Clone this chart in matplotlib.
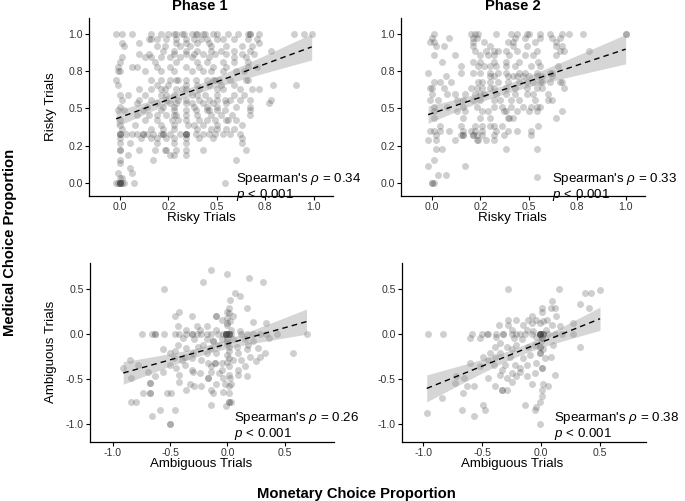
import numpy as np
import matplotlib.pyplot as plt

plt.rcParams['font.family'] = ['Liberation Sans', 'DejaVu Sans']
plt.rcParams['mathtext.fontset'] = 'custom'
plt.rcParams['mathtext.it'] = 'Liberation Sans:italic'
plt.rcParams['mathtext.rm'] = 'Liberation Sans'

# Phase 1 - risky trials: (medical y, [monetary x ...])
p1_rows = [
    (1.00, [-0.02, 0.01, 0.06, 0.16, 0.21, 0.25, 0.28, 0.29, 0.32, 0.33, 0.37, 0.39, 0.40, 0.43, 0.44,
            0.48, 0.50, 0.56, 0.61, 0.66, 0.67, 0.67, 0.72, 0.90, 0.95, 0.99]),
    (0.97, [0.15, 0.16, 0.19, 0.24, 0.29, 0.34, 0.38, 0.42, 0.45, 0.50, 0.53, 0.59, 0.66, 0.71]),
    (0.94, [0.01, 0.10, 0.29, 0.34, 0.40, 0.46, 0.72]),
    (0.92, [0.02, 0.19, 0.23, 0.31, 0.36, 0.47, 0.55, 0.63, 0.68]),
    (0.89, [0.22, 0.28, 0.34, 0.40, 0.47, 0.52, 0.59, 0.67, 0.78]),
    (0.87, [0.10, 0.15, 0.28, 0.34, 0.38, 0.43, 0.49, 0.55, 0.63, 0.69]),
    (0.845, [0.01, 0.13, 0.16, 0.21, 0.26, 0.31, 0.37, 0.46, 0.59, 0.65]),
    (0.815, [0.00, 0.18, 0.29, 0.40, 0.45, 0.53, 0.59, 0.66]),
    (0.78, [-0.01, 0.06, 0.09, 0.19, 0.26, 0.34, 0.41, 0.48, 0.55, 0.66, 0.71]),
    (0.75, [-0.01, 0.00, 0.13, 0.21, 0.28, 0.37, 0.43, 0.47, 0.53, 0.60, 0.64]),
    (0.69, [-0.02, 0.16, 0.21, 0.26, 0.29, 0.30, 0.34, 0.39, 0.45, 0.48, 0.49, 0.51, 0.57, 0.65, 0.66]),
    (0.66, [-0.01, 0.19, 0.25, 0.34, 0.40, 0.46, 0.52, 0.59, 0.79, 0.91]),
    (0.63, [0.10, 0.16, 0.21, 0.23, 0.29, 0.32, 0.34, 0.41, 0.50, 0.53, 0.62, 0.68, 0.72]),
    (0.59, [0.00, 0.04, 0.13, 0.21, 0.24, 0.28, 0.37, 0.40, 0.44, 0.50, 0.59, 0.64]),
    (0.56, [0.01, 0.10, 0.16, 0.24, 0.30, 0.34, 0.41, 0.46, 0.50, 0.54, 0.57, 0.62, 0.67, 0.78]),
    (0.535, [0.09, 0.19, 0.26, 0.29, 0.34, 0.37, 0.43, 0.48, 0.55, 0.77]),
    (0.51, [0.00, 0.14, 0.22, 0.28, 0.38, 0.45, 0.50, 0.60, 0.67]),
    (0.49, [-0.01, 0.02, 0.12, 0.21, 0.28, 0.34, 0.39, 0.45, 0.46, 0.50, 0.54, 0.67]),
    (0.455, [0.09, 0.15, 0.19, 0.24, 0.28, 0.29, 0.34, 0.40, 0.47, 0.52, 0.58, 0.67]),
    (0.42, [0.00, 0.13, 0.19, 0.27, 0.30, 0.34, 0.41, 0.45, 0.49, 0.55, 0.56, 0.60]),
    (0.39, [0.00, 0.08, 0.21, 0.28, 0.35, 0.38, 0.43, 0.50, 0.63]),
    (0.365, [0.01, 0.16, 0.22, 0.28, 0.40, 0.47, 0.50, 0.55, 0.59]),
    (0.33, [0.00, 0.00, 0.00, 0.03, 0.06, 0.09, 0.12, 0.12, 0.14, 0.17, 0.21, 0.22, 0.22, 0.26, 0.31,
            0.34, 0.34, 0.34, 0.34, 0.39, 0.43, 0.46, 0.49, 0.53, 0.57, 0.62]),
    (0.30, [0.00, 0.11, 0.16, 0.19, 0.24, 0.28, 0.34, 0.41, 0.48, 0.63]),
    (0.265, [0.00, 0.05, 0.19, 0.28, 0.34, 0.63]),
    (0.22, [0.00, 0.00, 0.10, 0.18, 0.23, 0.24, 0.29, 0.34, 0.43, 0.65]),
    (0.185, [0.04, 0.26, 0.28, 0.34]),
    (0.155, [0.00, 0.17, 0.60]),
    (0.13, [0.00]),
    (0.10, [0.05]),
    (0.065, [-0.01, 0.06]),
    (0.03, [0.00, 0.01]),
    (0.00, [-0.02, -0.01, 0.00, 0.00, 0.00, 0.00, 0.00, 0.01, 0.02, 0.07, 0.54]),
]

# Phase 2 - risky trials
p2_rows = [
    (1.00, [0.01, 0.20, 0.22, 0.24, 0.33, 0.41, 0.44, 0.49, 0.50, 0.56, 0.61, 0.67, 0.71, 0.78, 1.00, 1.00]),
    (0.975, [0.00, 0.09, 0.21, 0.23, 0.43, 0.48, 0.56, 0.62, 0.66]),
    (0.95, [-0.01, 0.01, 0.21, 0.27, 0.39, 0.42, 0.53, 0.64]),
    (0.92, [0.02, 0.06, 0.21, 0.30, 0.42, 0.49, 0.64, 0.67]),
    (0.885, [0.22, 0.28, 0.32, 0.34, 0.38, 0.44, 0.54, 0.66, 0.68, 0.81]),
    (0.86, [0.01, 0.12, 0.25, 0.29, 0.32, 0.40, 0.48, 0.52, 0.64]),
    (0.815, [0.05, 0.21, 0.25, 0.32, 0.38, 0.45, 0.55]),
    (0.785, [0.15, 0.24, 0.27, 0.30, 0.33, 0.38, 0.43, 0.51, 0.56, 0.65]),
    (0.74, [-0.02, 0.15, 0.21, 0.25, 0.30, 0.34, 0.38, 0.45, 0.48, 0.54, 0.61, 0.62]),
    (0.72, [0.07, 0.30, 0.32, 0.39, 0.42, 0.44, 0.47, 0.50, 0.54, 0.57, 0.62]),
    (0.68, [0.01, 0.04, 0.10, 0.24, 0.26, 0.30, 0.34, 0.39, 0.45, 0.49, 0.52, 0.56, 0.57, 0.61, 0.66, 0.67]),
    (0.64, [-0.01, 0.00, 0.06, 0.20, 0.23, 0.26, 0.30, 0.32, 0.38, 0.43, 0.49, 0.54, 0.57, 0.68]),
    (0.60, [0.00, 0.08, 0.12, 0.17, 0.22, 0.25, 0.27, 0.33, 0.38, 0.43, 0.49, 0.52, 0.60]),
    (0.555, [-0.01, 0.03, 0.13, 0.16, 0.21, 0.25, 0.32, 0.35, 0.41, 0.45, 0.53, 0.60, 0.62]),
    (0.51, [0.01, 0.08, 0.16, 0.23, 0.32, 0.36, 0.41, 0.47, 0.51, 0.54, 0.56]),
    (0.48, [0.01, 0.13, 0.17, 0.26, 0.29, 0.37, 0.38, 0.44, 0.50, 0.54, 0.67]),
    (0.435, [0.01, 0.16, 0.25, 0.30, 0.39, 0.40, 0.42, 0.64]),
    (0.38, [0.04, 0.15, 0.22, 0.26, 0.30, 0.32, 0.36, 0.55]),
    (0.35, [-0.01, 0.01, 0.04, 0.09, 0.16, 0.20, 0.22, 0.26, 0.33, 0.39, 0.44, 0.51]),
    (0.32, [0.02, 0.15, 0.16, 0.16, 0.21, 0.21, 0.23, 0.26, 0.32, 0.37, 0.51]),
    (0.29, [-0.02, 0.02, 0.12, 0.23, 0.24, 0.28, 0.32]),
    (0.225, [0.02, 0.05, 0.38, 0.54]),
    (0.155, [0.01]),
    (0.11, [-0.02, 0.17]),
    (0.05, [0.03, 0.07]),
    (0.035, [0.54]),
    (0.00, [0.00, 0.00, 0.01]),
]

# Phase 1 - ambiguous trials: (monetary x, medical y)
p3_pts = [
    (-0.14, 0.71), (0.00, 0.67), (0.19, 0.62), (0.31, 0.58), (-0.21, 0.58), (-0.55, 0.50),
    (0.07, 0.46), (0.11, 0.42), (0.02, 0.38), (0.01, 0.29), (0.17, 0.29), (-0.42, 0.25),
    (-0.46, 0.20), (-0.31, 0.20), (-0.10, 0.20), (-0.10, 0.20), (0.01, 0.23), (0.05, 0.20),
    (-0.05, 0.16), (0.02, 0.14), (0.22, 0.13), (-0.43, 0.09), (-0.27, 0.09), (-0.18, 0.09),
    (0.00, 0.10), (0.34, 0.12), (-0.36, 0.05), (-0.24, 0.05), (-0.10, 0.05), (0.03, 0.05),
    (0.11, 0.03), (0.00, 0.25), (0.00, 0.18), (0.00, 0.12),
    (-0.75, 0.0), (-0.66, 0.0), (-0.63, 0.0), (-0.63, 0.0), (-0.55, 0.0), (-0.46, 0.0),
    (-0.42, 0.0), (-0.36, 0.0), (-0.31, 0.0), (-0.31, 0.0), (-0.27, 0.0), (-0.23, 0.0),
    (-0.18, 0.0), (-0.14, 0.0), (-0.08, 0.0), (-0.04, 0.0), (-0.01, 0.0), (-0.01, 0.0),
    (-0.01, 0.0), (-0.01, 0.0), (-0.01, 0.0), (-0.01, 0.0), (0.01, 0.0), (0.01, 0.0),
    (0.01, 0.0), (0.01, 0.0), (0.03, 0.0), (0.12, 0.0), (0.17, 0.0), (0.22, 0.0),
    (0.28, 0.0), (0.34, 0.0), (0.43, 0.0), (0.69, 0.0),
    (-0.39, -0.04), (-0.29, -0.06), (-0.18, -0.06), (-0.13, -0.08), (-0.13, -0.08), (-0.05, -0.06),
    (0.05, -0.06), (0.15, -0.06), (0.22, -0.08), (0.36, -0.04), (0.00, -0.04), (0.00, -0.08),
    (-0.56, -0.17), (-0.43, -0.12), (-0.36, -0.16), (-0.26, -0.14), (-0.21, -0.12), (-0.14, -0.16),
    (-0.08, -0.12), (0.01, -0.14), (0.08, -0.14), (0.18, -0.12), (0.27, -0.16), (0.00, -0.11),
    (-0.50, -0.21), (-0.46, -0.19), (-0.37, -0.25), (-0.30, -0.21), (-0.18, -0.21), (-0.10, -0.21),
    (0.01, -0.19), (0.09, -0.21), (0.17, -0.17), (0.28, -0.25), (0.33, -0.21), (0.57, -0.21),
    (0.00, -0.23), (-0.85, -0.29), (-0.47, -0.27), (-0.40, -0.29), (-0.31, -0.27), (-0.23, -0.29),
    (-0.17, -0.32), (-0.11, -0.32), (-0.11, -0.32), (-0.05, -0.32), (0.01, -0.27), (0.05, -0.29),
    (0.12, -0.29), (0.20, -0.25), (0.25, -0.30), (0.00, -0.31),
    (-0.91, -0.38), (-0.78, -0.34), (-0.50, -0.34), (-0.45, -0.38), (-0.37, -0.34), (-0.31, -0.40),
    (-0.14, -0.36), (-0.05, -0.40), (0.01, -0.36), (0.09, -0.40), (0.15, -0.36),
    (-0.69, -0.42), (-0.56, -0.42), (-0.42, -0.45), (-0.30, -0.42), (-0.24, -0.43), (-0.14, -0.42),
    (-0.07, -0.43), (0.01, -0.45), (0.09, -0.45), (0.17, -0.47), (-0.63, -0.47),
    (-0.84, -0.49), (-0.17, -0.49), (-0.17, -0.49), (-0.04, -0.49), (0.02, -0.49), (0.03, -0.55),
    (-0.42, -0.53), (-0.02, -0.55), (-0.68, -0.54), (-0.68, -0.54), (-0.33, -0.56), (-0.29, -0.58),
    (-0.23, -0.58), (-0.14, -0.62), (-0.10, -0.56), (0.01, -0.58), (-0.36, -0.62),
    (-0.74, -0.66), (-0.68, -0.66), (-0.68, -0.66), (-0.53, -0.66), (-0.49, -0.66), (-0.13, -0.66),
    (0.01, -0.66), (-0.04, -0.64), (-0.84, -0.75), (-0.80, -0.75), (-0.59, -0.84), (-0.46, -0.84),
    (-0.14, -0.79), (0.01, -0.75), (0.01, -0.75), (0.03, -0.75), (-0.01, -0.80), (-0.66, -0.91),
    (-0.50, -1.00), (-0.50, -1.00),
]

# Phase 2 - ambiguous trials
p4_pts = [
    (-0.28, 0.50), (0.15, 0.50), (0.37, 0.46), (0.42, 0.46), (0.50, 0.49), (0.33, 0.33),
    (0.09, 0.37), (0.01, 0.29), (0.08, 0.29), (0.12, 0.29), (0.41, 0.29), (-0.08, 0.20),
    (0.01, 0.25), (0.13, 0.20), (-0.28, 0.16), (-0.21, 0.16), (-0.11, 0.16), (-0.04, 0.16),
    (0.02, 0.14), (0.05, 0.16), (-0.36, 0.10), (-0.28, 0.10), (-0.15, 0.10), (-0.08, 0.12),
    (-0.01, 0.12), (0.09, 0.10), (0.27, 0.12), (0.16, 0.09), (-0.25, 0.05), (-0.12, 0.05),
    (-0.07, 0.03), (0.04, 0.05),
    (-0.96, 0.0), (-0.83, 0.0), (-0.59, 0.0), (-0.50, 0.0), (-0.46, 0.0), (-0.45, 0.0),
    (-0.38, 0.0), (-0.32, 0.0), (-0.32, 0.0), (-0.25, 0.0), (-0.21, 0.0), (-0.18, 0.0),
    (-0.14, 0.0), (-0.08, 0.0), (-0.01, 0.0), (-0.01, 0.0), (-0.01, 0.0), (-0.01, 0.0),
    (-0.01, 0.0), (-0.01, 0.0), (0.02, 0.0), (0.02, 0.0), (0.02, 0.0), (0.06, 0.0),
    (0.12, 0.0), (0.18, 0.0), (0.27, 0.0),
    (-0.52, -0.04), (-0.38, -0.03), (-0.23, -0.04), (-0.16, -0.06), (-0.04, -0.03), (0.01, -0.04),
    (0.01, -0.04), (-0.60, -0.04), (0.00, -0.08),
    (-0.39, -0.14), (-0.35, -0.10), (-0.29, -0.14), (-0.21, -0.12), (-0.11, -0.14), (-0.05, -0.12),
    (-0.01, -0.14), (-0.01, -0.14), (0.02, -0.17), (0.10, -0.12), (0.33, -0.14), (-0.25, -0.17),
    (-0.49, -0.25), (-0.45, -0.29), (-0.39, -0.25), (-0.35, -0.21), (-0.26, -0.25), (-0.15, -0.27),
    (-0.09, -0.23), (-0.01, -0.21), (-0.01, -0.21), (0.03, -0.27), (0.08, -0.25), (-0.43, -0.21),
    (-0.60, -0.32), (-0.52, -0.36), (-0.40, -0.34), (-0.31, -0.34), (-0.22, -0.34), (-0.18, -0.38),
    (-0.12, -0.34), (-0.04, -0.32), (0.01, -0.38), (0.01, -0.38), (-0.33, -0.40),
    (-0.72, -0.47), (-0.65, -0.49), (-0.45, -0.49), (-0.35, -0.46), (-0.29, -0.49), (-0.25, -0.43),
    (-0.21, -0.47), (-0.18, -0.42), (-0.12, -0.47), (-0.05, -0.43), (0.12, -0.46), (-0.25, -0.53),
    (-0.73, -0.54), (-0.63, -0.58), (-0.57, -0.58), (-0.39, -0.58), (-0.33, -0.62), (-0.33, -0.62),
    (-0.29, -0.62), (-0.08, -0.55), (0.02, -0.56), (0.06, -0.58),
    (-0.66, -0.66), (-0.84, -0.71), (0.01, -0.62), (0.01, -0.69), (-0.01, -0.75), (-0.04, -0.81),
    (-0.14, -0.79), (-0.67, -0.84), (-0.49, -0.79), (-0.48, -0.84), (-0.57, -0.91), (-0.97, -0.88),
    (-0.05, -0.84), (-0.01, -1.00),
]

# fitted lines: (intercept, slope)
fit_params = [(0.44, 0.48), (0.467, 0.433), (-0.108, 0.357), (-0.093, 0.527)]
rho_vals = ['0.34', '0.33', '0.26', '0.38']

risky_ticks = [0, 0.25, 0.5, 0.75, 1.0]
risky_labels = ['0.0', '0.2', '0.5', '0.8', '1.0']
amb_ticks = [-1.0, -0.5, 0.0, 0.5]
amb_labels = ['-1.0', '-0.5', '0.0', '0.5']


def rows_to_xy(rows):
    x = np.array([xv for y, xs in rows for xv in xs])
    y = np.array([y for y, xs in rows for xv in xs])
    return x, y


def pts_to_xy(pts):
    arr = np.array(pts)
    return arr[:, 0], arr[:, 1]


def lm_band(x, y, a, b):
    # line + 95% confidence band, same shape as geom_smooth(method = "lm")
    xs = np.linspace(x.min(), x.max(), 100)
    n = len(x)
    s = np.sqrt(np.sum((y - (a + b * x)) ** 2) / (n - 2))
    sxx = np.sum((x - x.mean()) ** 2)
    se = s * np.sqrt(1 / n + (xs - x.mean()) ** 2 / sxx)
    return xs, a + b * xs, 1.97 * se


W, H = 685, 501
fig = plt.figure(figsize=(W / 100, H / 100), dpi=100)


def add_ax(l, t, r, b):
    return fig.add_axes([l / W, 1 - b / H, (r - l) / W, (b - t) / H])


panels = [
    (add_ax(89, 18, 333, 196), rows_to_xy(p1_rows), (-0.16, 1.10), (-0.09, 1.11),
     risky_ticks, risky_labels, (0.60, -0.028)),
    (add_ax(401, 18, 645, 196), rows_to_xy(p2_rows), (-0.16, 1.10), (-0.09, 1.11),
     risky_ticks, risky_labels, (0.62, -0.028)),
    (add_ax(90, 263, 334, 442), pts_to_xy(p3_pts), (-1.20, 0.93), (-1.20, 0.79),
     amb_ticks, amb_labels, (0.06, -1.02)),
    (add_ax(402, 263, 646, 442), pts_to_xy(p4_pts), (-1.18, 0.89), (-1.20, 0.79),
     amb_ticks, amb_labels, (0.11, -1.02)),
]

for (ax, (x, y), xlim, ylim, ticks, labels, txt), rho, (a, b) in zip(panels, rho_vals, fit_params):
    ax.scatter(x, y, s=25, color='#404040', alpha=0.25, linewidths=0, zorder=2)
    xs, fit, ci = lm_band(x, y, a, b)
    ax.fill_between(xs, fit - ci, fit + ci, color='#999999', alpha=0.4, linewidth=0, zorder=3)
    ax.plot(xs, fit, color='black', linestyle=(0, (4, 3)), linewidth=1.0, zorder=4)
    ax.set_xlim(xlim)
    ax.set_ylim(ylim)
    ax.set_xticks(ticks)
    ax.set_xticklabels(labels)
    ax.set_yticks(ticks)
    ax.set_yticklabels(labels)
    ax.tick_params(labelsize=7.6, labelcolor='#333333', length=3, width=0.8, pad=1.5)
    for side in ['top', 'right']:
        ax.spines[side].set_visible(False)
    for side in ['left', 'bottom']:
        ax.spines[side].set_linewidth(0.9)
    tx, ty = txt
    ax.text(tx, ty, "Spearman's $\\it{\\rho}$ = " + rho + "\n$\\it{p}$ < 0.001",
            fontsize=9.6, va='center', ha='left', linespacing=0.95, clip_on=False)


def ftext(px, py, s, va='center', **kw):
    fig.text(px / W, 1 - py / H, s, ha='center', va=va, **kw)


ftext(200, 10, 'Phase 1', va='baseline', fontsize=10.6, fontweight='bold')
ftext(513, 10, 'Phase 2', va='baseline', fontsize=10.6, fontweight='bold')
ftext(201, 221, 'Risky Trials', va='baseline', fontsize=9.6)
ftext(512, 221, 'Risky Trials', va='baseline', fontsize=9.6)
ftext(201, 467, 'Ambiguous Trials', va='baseline', fontsize=9.6)
ftext(512, 467, 'Ambiguous Trials', va='baseline', fontsize=9.6)
ftext(51, 107, 'Risky Trials', fontsize=9.6, rotation=90)
ftext(51, 352, 'Ambiguous Trials', fontsize=9.6, rotation=90)
ftext(10, 242, 'Medical Choice Proportion', fontsize=10.6, fontweight='bold', rotation=90)
ftext(356, 498, 'Monetary Choice Proportion', va='baseline', fontsize=10.6, fontweight='bold')

fig.savefig('out.png', dpi=100)
